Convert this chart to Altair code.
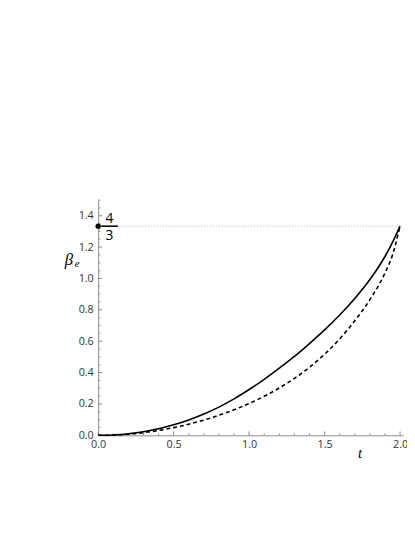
import altair as alt
import pandas as pd

# data
t_vals = [0.0, 0.1, 0.2, 0.3, 0.4, 0.5, 0.6, 0.7, 0.8, 0.9, 1.0, 1.1, 1.2, 1.3, 1.4, 1.5, 1.6, 1.7, 1.8, 1.9, 1.95, 2.0]
solid_vals = [0.0, 0.002, 0.010, 0.023, 0.042, 0.067, 0.098, 0.136, 0.180, 0.232, 0.292, 0.357, 0.428, 0.503, 0.585, 0.672, 0.767, 0.872, 0.993, 1.140, 1.230, 1.3333]
dashed_vals = [0.0, 0.001, 0.007, 0.017, 0.031, 0.049, 0.071, 0.097, 0.128, 0.163, 0.203, 0.249, 0.302, 0.363, 0.434, 0.517, 0.615, 0.730, 0.865, 1.035, 1.150, 1.3333]

x_major = [0.0, 0.5, 1.0, 1.5, 2.0]
x_minor = [round(0.1 * i, 2) for i in range(0, 21) if i % 5 != 0]
y_major = [0.0, 0.2, 0.4, 0.6, 0.8, 1.0, 1.2, 1.4]
y_minor = [round(0.05 * i, 3) for i in range(0, 31) if i % 4 != 0]
marker_value = 4 / 3

W, H = 311, 240
XD = [0, 2.02]
YD = [0, 1.5]
AX = "#8a8a8a"
LAB = "#333333"
FONT = "Open Sans"

xs = alt.Scale(domain=XD, nice=False, zero=False)
ys = alt.Scale(domain=YD, nice=False, zero=False)

curve_s = pd.DataFrame({"t": t_vals, "v": solid_vals})
curve_d = pd.DataFrame({"t": t_vals, "v": dashed_vals})

x_axis = alt.Axis(values=x_major, format=".1f", ticks=False, domainColor=AX, labelColor=LAB,
                  labelFont=FONT, labelFontSize=11, labelPadding=3, grid=False, title=None,
                  labelFlush=False, labelOverlap=False, labelBound=False)
y_axis = alt.Axis(values=y_major, format=".1f", ticks=False, domainColor=AX, labelColor=LAB,
                  labelFont=FONT, labelFontSize=11, labelPadding=5, grid=False, title=None,
                  labelFlush=False, labelOverlap=False, labelBound=False)

solid = alt.Chart(curve_s).mark_line(color="black", strokeWidth=1.6, interpolate="monotone").encode(
    x=alt.X("t:Q", scale=xs, axis=x_axis),
    y=alt.Y("v:Q", scale=ys, axis=y_axis),
)
dashed = alt.Chart(curve_d).mark_line(color="black", strokeWidth=1.6, strokeDash=[4, 3], interpolate="monotone").encode(
    x=alt.X("t:Q", scale=xs, axis=x_axis),
    y=alt.Y("v:Q", scale=ys, axis=y_axis),
)

# horizontal dotted reference at 4/3
ref = alt.Chart(pd.DataFrame({"x0": [0.0], "x1": [2.0], "y": [marker_value]})).mark_rule(
    color="#b0b0b0", strokeWidth=1, strokeDash=[1, 2]
).encode(x=alt.X("x0:Q", scale=xs, axis=x_axis), x2="x1:Q", y=alt.Y("y:Q", scale=ys, axis=y_axis))

# ticks (inward)
xmaj = alt.Chart(pd.DataFrame({"x": x_major})).mark_rule(color=AX).encode(
    x=alt.X("x:Q", scale=xs, axis=x_axis), y=alt.value(H), y2=alt.value(H - 4))
xmin = alt.Chart(pd.DataFrame({"x": x_minor})).mark_rule(color=AX).encode(
    x=alt.X("x:Q", scale=xs, axis=x_axis), y=alt.value(H), y2=alt.value(H - 2))
ymaj = alt.Chart(pd.DataFrame({"y": y_major})).mark_rule(color=AX).encode(
    y=alt.Y("y:Q", scale=ys, axis=y_axis), x=alt.value(0), x2=alt.value(4))
ymin = alt.Chart(pd.DataFrame({"y": y_minor})).mark_rule(color=AX).encode(
    y=alt.Y("y:Q", scale=ys, axis=y_axis), x=alt.value(0), x2=alt.value(2))

# marker at (0, 4/3) with fraction label
dot = alt.Chart(pd.DataFrame({"x": [0.0], "y": [marker_value]})).mark_circle(
    color="black", size=30, opacity=1).encode(
    x=alt.X("x:Q", scale=xs, axis=x_axis), y=alt.Y("y:Q", scale=ys, axis=y_axis))
bar = alt.Chart(pd.DataFrame({"x0": [0.02], "x1": [0.13], "y": [marker_value]})).mark_rule(
    color="black", strokeWidth=1.6).encode(
    x=alt.X("x0:Q", scale=xs, axis=x_axis), x2="x1:Q", y=alt.Y("y:Q", scale=ys, axis=y_axis))
num = alt.Chart(pd.DataFrame({"x": [0.075], "y": [marker_value], "s": ["4"]})).mark_text(
    font=FONT, fontSize=14, color="black", baseline="alphabetic", dy=-3).encode(
    x=alt.X("x:Q", scale=xs, axis=x_axis), y=alt.Y("y:Q", scale=ys, axis=y_axis), text="s:N")
den = alt.Chart(pd.DataFrame({"x": [0.075], "y": [marker_value], "s": ["3"]})).mark_text(
    font=FONT, fontSize=14, color="black", baseline="alphabetic", dy=14).encode(
    x=alt.X("x:Q", scale=xs, axis=x_axis), y=alt.Y("y:Q", scale=ys, axis=y_axis), text="s:N")

# axis titles
ytitle = alt.Chart(pd.DataFrame({"s": ["β"]})).mark_text(
    font="Liberation Serif", fontStyle="italic", fontSize=17, color="black", align="center", baseline="middle"
).encode(x=alt.value(-30), y=alt.value(61), text="s:N")
ysub = alt.Chart(pd.DataFrame({"s": ["e"]})).mark_text(
    font="Liberation Serif", fontStyle="italic", fontSize=11, color="black", align="left", baseline="middle"
).encode(x=alt.value(-24), y=alt.value(65), text="s:N")
xtitle = alt.Chart(pd.DataFrame({"s": ["t"]})).mark_text(
    font="Liberation Serif", fontStyle="italic", fontSize=15, color="black", align="center", baseline="middle"
).encode(x=alt.value(267), y=alt.value(H + 18), text="s:N")

chart = alt.layer(ref, xmin, xmaj, ymin, ymaj, dashed, solid, bar, dot, num, den, ytitle, ysub, xtitle).properties(
    width=W, height=H,
    autosize=alt.AutoSizeParams(type="none"),
    padding={"left": 92, "top": 191, "right": 4, "bottom": 57},
).configure_view(stroke=None).configure_axis(labelOverlap=False).configure_axisY(labelBaseline="middle")

chart.save("out.html", embed_options={"renderer": "svg", "actions": False})
